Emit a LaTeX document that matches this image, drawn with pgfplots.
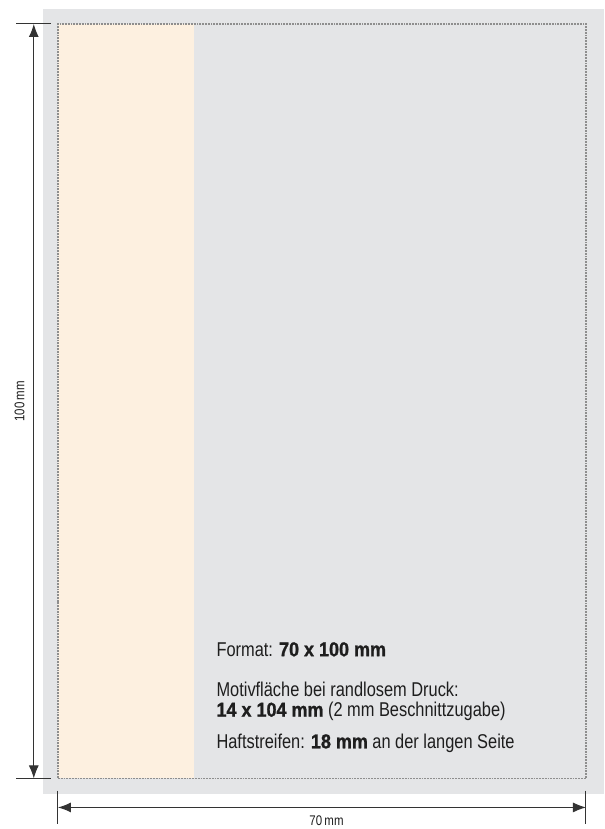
\documentclass[border=0pt]{standalone}
\usepackage{pgfplots}
\pgfplotsset{compat=1.18}
\usetikzlibrary{arrows.meta}
\usepackage{fontspec}
\setmainfont{Liberation Sans}[FakeStretch=0.82, BoldFeatures={FakeStretch=0.9, FakeBold=1.2}]
\definecolor{bggrey}{HTML}{E4E5E7}
\definecolor{cream}{HTML}{FDF0E0}
\definecolor{dimc}{HTML}{333333}
\definecolor{txt}{HTML}{1E1E1E}
\definecolor{dotc}{HTML}{8E8E8E}
\begin{document}
\begin{tikzpicture}
\begin{axis}[
  scale only axis, width=605pt, height=829pt,
  xmin=-7.68, xmax=72.45, ymin=-6.6, ymax=103.18,
  hide axis, clip=false,
]
% invisible frame to fix the bounding box
\addplot[draw=none, fill=none] coordinates {(-7.68,-6.6) (72.45,103.18)};
% background (bleed area)
\addplot[fill=bggrey, draw=none] coordinates {(-2,-2) (72.45,-2) (72.45,102) (-2,102)} -- cycle;
% adhesive strip
\addplot[fill=cream, draw=none] coordinates {(0,0) (18,0) (18,100) (0,100)} -- cycle;
% format outline
\addplot[draw=dotc, line width=1.2pt, dash pattern=on 1.8pt off 1pt] coordinates {(0,0) (70,0) (70,100) (0,100)} -- cycle;
% vertical dimension
\addplot[dimc, line width=1pt, {Latex[length=13pt,width=10pt]}-{Latex[length=13pt,width=10pt]}] coordinates {(-3.2,0) (-3.2,100)};
\addplot[dimc, line width=1pt] coordinates {(-5.5,100) (-0.9,100)};
\addplot[dimc, line width=1pt] coordinates {(-5.5,0) (-0.9,0)};
% horizontal dimension
\addplot[dimc, line width=1pt, {Latex[length=13pt,width=10pt]}-{Latex[length=13pt,width=10pt]}] coordinates {(0,-3.84) (70,-3.84)};
\addplot[dimc, line width=1pt] coordinates {(0,-1.6) (0,-6.0)};
\addplot[dimc, line width=1pt] coordinates {(70,-1.6) (70,-6.0)};
% labels
\node[rotate=90, font=\fontsize{14}{16}\selectfont, text=txt] at (axis cs:-5.1,50) {100\,mm};
\node[font=\fontsize{14}{16}\selectfont, text=txt] at (axis cs:35.6,-5.6) {70\,mm};
\begin{scope}[every node/.style={anchor=base west, inner sep=0pt, text=txt, font=\fontsize{20}{24}\selectfont}]
\node at (axis cs:21,16.2) {Format: \textbf{70 x 100 mm}};
\node at (axis cs:21,10.9) {Motivfläche bei randlosem Druck:};
\node at (axis cs:21,8.2) {\textbf{14 x 104 mm} (2 mm Beschnittzugabe)};
\node at (axis cs:21,4.0) {Haftstreifen: \textbf{18 mm} an der langen Seite};
\end{scope}
\end{axis}
\end{tikzpicture}
\end{document}
